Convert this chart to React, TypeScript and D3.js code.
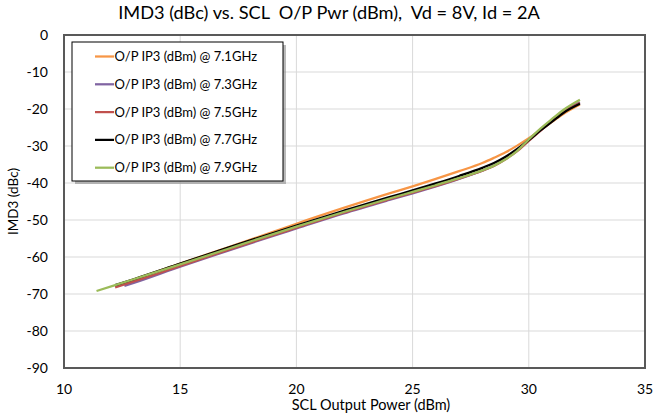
import React from "react";
import * as d3 from "d3";

// Readings (SCL output power in dBm, IMD3 in dBc)
const seriesNames = [
  "O/P IP3 (dBm) @ 7.1GHz",
  "O/P IP3 (dBm) @ 7.3GHz",
  "O/P IP3 (dBm) @ 7.5GHz",
  "O/P IP3 (dBm) @ 7.7GHz",
  "O/P IP3 (dBm) @ 7.9GHz",
];
const seriesColors = ["#F79646", "#8064A2", "#C0504D", "#000000", "#9BBB59"];

const pwr71 = [12.3, 13, 15, 17, 19, 20, 22, 24, 25, 26, 27, 28, 28.5, 29, 29.5, 30, 30.5, 31, 31.5, 32.2];
const imd71 = [-67.6, -66.1, -61.8, -57.5, -53.2, -51.0, -46.8, -42.8, -40.9, -38.9, -36.8, -34.6, -33.2, -31.7, -29.9, -27.9, -25.7, -23.5, -21.3, -18.8];

const pwr73 = [12.6, 13, 15, 17, 19, 20, 22, 24, 25, 26, 27, 28, 28.5, 29, 29.5, 30, 30.5, 31, 31.5, 32.2];
const imd73 = [-67.8, -67.0, -62.6, -58.4, -54.3, -52.3, -48.3, -44.6, -42.8, -40.9, -38.9, -36.7, -35.3, -33.4, -31.1, -28.3, -25.6, -23.0, -20.6, -18.2];

const pwr75 = [12.2, 13, 15, 17, 19, 20, 22, 24, 25, 26, 27, 28, 28.5, 29, 29.5, 30, 30.5, 31, 31.5, 32.2];
const imd75 = [-68.2, -66.6, -62.4, -58.2, -54.1, -52.1, -48.1, -44.4, -42.6, -40.8, -38.8, -36.7, -35.4, -33.6, -31.4, -28.6, -25.9, -23.3, -20.8, -18.4];

const pwr77 = [12.2, 13, 15, 17, 19, 20, 22, 24, 25, 26, 27, 28, 28.5, 29, 29.5, 30, 30.5, 31, 31.5, 32.2];
const imd77 = [-67.6, -66.0, -61.8, -57.6, -53.5, -51.5, -47.6, -43.8, -42.0, -40.1, -38.1, -35.9, -34.6, -32.9, -30.8, -28.4, -25.8, -23.4, -21.0, -18.6];

const pwr79 = [11.4, 13, 15, 17, 19, 20, 22, 24, 25, 26, 27, 28, 28.5, 29, 29.5, 30, 30.5, 31, 31.5, 32.2];
const imd79 = [-69.2, -66.0, -62.0, -57.9, -53.8, -51.8, -47.9, -44.2, -42.4, -40.6, -38.7, -36.6, -35.3, -33.6, -31.3, -28.2, -25.3, -22.7, -20.2, -17.5];

const xTicks = [10, 15, 20, 25, 30, 35];
const yTicks = [0, -10, -20, -30, -40, -50, -60, -70, -80, -90];

const allPwr = [pwr71, pwr73, pwr75, pwr77, pwr79];
const allImd = [imd71, imd73, imd75, imd77, imd79];

export default function App() {
  const width = 653;
  const height = 419;
  const plot = { left: 64, top: 35, right: 645, bottom: 368 };
  const font = "Lato, 'Open Sans', sans-serif";

  const xScale = d3.scaleLinear().domain([10, 35]).range([plot.left, plot.right]);
  const yScale = d3.scaleLinear().domain([-90, 0]).range([plot.bottom, plot.top]);

  const line = d3
    .line<[number, number]>()
    .x((d) => xScale(d[0]))
    .y((d) => yScale(d[1]))
    .curve(d3.curveMonotoneX);

  const legend = { x: 72, y: 42, w: 211, h: 139 };

  return (
    <svg
      width={width}
      height={height}
      style={{ position: "absolute", left: 0, top: 0, background: "#fff" }}
      fontFamily={font}
    >
      <text x={329} y={19} textAnchor="middle" fontSize={18.2} fill="#000" style={{ whiteSpace: "pre" }}>
        {"IMD3 (dBc) vs. SCL  O/P Pwr (dBm),  Vd = 8V, Id = 2A"}
      </text>

      {/* grid */}
      {xTicks.slice(1, -1).map((t) => (
        <line key={"gx" + t} x1={xScale(t)} x2={xScale(t)} y1={plot.top} y2={plot.bottom} stroke="#d9d9d9" strokeWidth={1} />
      ))}
      {yTicks.slice(1, -1).map((t) => (
        <line key={"gy" + t} x1={plot.left} x2={plot.right} y1={yScale(t)} y2={yScale(t)} stroke="#d9d9d9" strokeWidth={1} />
      ))}

      {/* series */}
      {allPwr.map((px, i) => (
        <path
          key={seriesNames[i]}
          d={line(px.map((p, j) => [p, allImd[i][j]] as [number, number])) || ""}
          fill="none"
          stroke={seriesColors[i]}
          strokeWidth={2.25}
          strokeLinejoin="round"
        />
      ))}

      {/* plot frame */}
      <rect
        x={plot.left}
        y={plot.top}
        width={plot.right - plot.left}
        height={plot.bottom - plot.top}
        fill="none"
        stroke="#595959"
        strokeWidth={2}
      />

      {/* tick labels */}
      {yTicks.map((t) => (
        <text key={"yl" + t} x={48} y={yScale(t) + 5} textAnchor="end" fontSize={14} fill="#000">
          {t}
        </text>
      ))}
      {xTicks.map((t) => (
        <text key={"xl" + t} x={xScale(t)} y={394} textAnchor="middle" fontSize={14} fill="#000">
          {t}
        </text>
      ))}

      <text x={371} y={410} textAnchor="middle" fontSize={14.5} fill="#000">
        SCL Output Power (dBm)
      </text>
      <text
        transform={`translate(18, ${(plot.top + plot.bottom) / 2}) rotate(-90)`}
        textAnchor="middle"
        fontSize={13.5}
        fill="#000"
      >
        IMD3 (dBc)
      </text>

      {/* legend */}
      <rect x={legend.x + 3} y={legend.y + 3} width={legend.w} height={legend.h} fill="#8c8c8c" opacity={0.6} />
      <rect x={legend.x} y={legend.y} width={legend.w} height={legend.h} fill="#fff" stroke="#000" strokeWidth={1} />
      {seriesNames.map((name, i) => {
        const y = legend.y + 14.5 + i * 27.8;
        return (
          <g key={"lg" + name}>
            <line x1={95} x2={114} y1={y} y2={y} stroke={seriesColors[i]} strokeWidth={2.25} />
            <text x={114.5} y={y + 4.5} fontSize={13} fill="#000">
              {name}
            </text>
          </g>
        );
      })}
    </svg>
  );
}
